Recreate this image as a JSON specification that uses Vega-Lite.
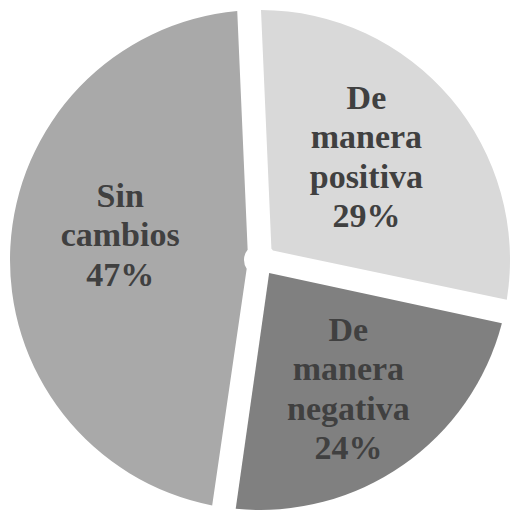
{
  "$schema": "https://vega.github.io/schema/vega-lite/v6.json",
  "width": 504,
  "height": 500,
  "autosize": "none",
  "padding": {"left": 8, "top": 10, "right": 0, "bottom": 0},
  "background": "white",
  "view": {"stroke": null},
  "data": {
    "values": [
      {"categoria": "De manera positiva", "porcentaje": 29, "orden": 1},
      {"categoria": "De manera negativa", "porcentaje": 24, "orden": 2},
      {"categoria": "Sin cambios", "porcentaje": 47, "orden": 3}
    ]
  },
  "transform": [
    {"calculate": "datum.categoria + ' ' + datum.porcentaje + '%'", "as": "etiqueta"},
    {"stack": "porcentaje", "groupby": [], "sort": [{"field": "orden", "order": "ascending"}], "as": ["ini", "fin"]},
    {"calculate": "(datum.ini + datum.fin) / 2", "as": "medio"}
  ],
  "layer": [
    {
      "mark": {"type": "arc", "padAngle": 0.095, "innerRadius": 16, "outerRadius": 250},
      "encoding": {
        "theta": {
          "field": "ini",
          "type": "quantitative",
          "scale": {"domain": [0, 100], "range": [-0.0436, 6.2396]}
        },
        "theta2": {"field": "fin"},
        "color": {
          "field": "categoria",
          "type": "nominal",
          "scale": {
            "domain": ["De manera positiva", "De manera negativa", "Sin cambios"],
            "range": ["#d9d9d9", "#808080", "#a9a9a9"]
          },
          "legend": null
        }
      }
    },
    {
      "transform": [{"filter": "datum.orden == 1"}],
      "mark": {
        "type": "text",
        "radius": 150,
        "dx": -8,
        "dy": -64,
        "font": "Liberation Serif",
        "fontSize": 34,
        "fontWeight": "bold",
        "color": "#404040",
        "lineBreak": " ",
        "lineHeight": 39.5,
        "align": "center",
        "baseline": "middle"
      },
      "encoding": {
        "theta": {"field": "medio", "type": "quantitative"},
        "text": {"field": "etiqueta", "type": "nominal"}
      }
    },
    {
      "transform": [{"filter": "datum.orden == 2"}],
      "mark": {
        "type": "text",
        "radius": 158,
        "dx": -2,
        "dy": -59,
        "font": "Liberation Serif",
        "fontSize": 34,
        "fontWeight": "bold",
        "color": "#404040",
        "lineBreak": " ",
        "lineHeight": 39.5,
        "align": "center",
        "baseline": "middle"
      },
      "encoding": {
        "theta": {"field": "medio", "type": "quantitative"},
        "text": {"field": "etiqueta", "type": "nominal"}
      }
    },
    {
      "transform": [{"filter": "datum.orden == 3"}],
      "mark": {
        "type": "text",
        "radius": 140,
        "dy": -56,
        "font": "Liberation Serif",
        "fontSize": 34,
        "fontWeight": "bold",
        "color": "#404040",
        "lineBreak": " ",
        "lineHeight": 39.5,
        "align": "center",
        "baseline": "middle"
      },
      "encoding": {
        "theta": {"field": "medio", "type": "quantitative"},
        "text": {"field": "etiqueta", "type": "nominal"}
      }
    }
  ]
}
